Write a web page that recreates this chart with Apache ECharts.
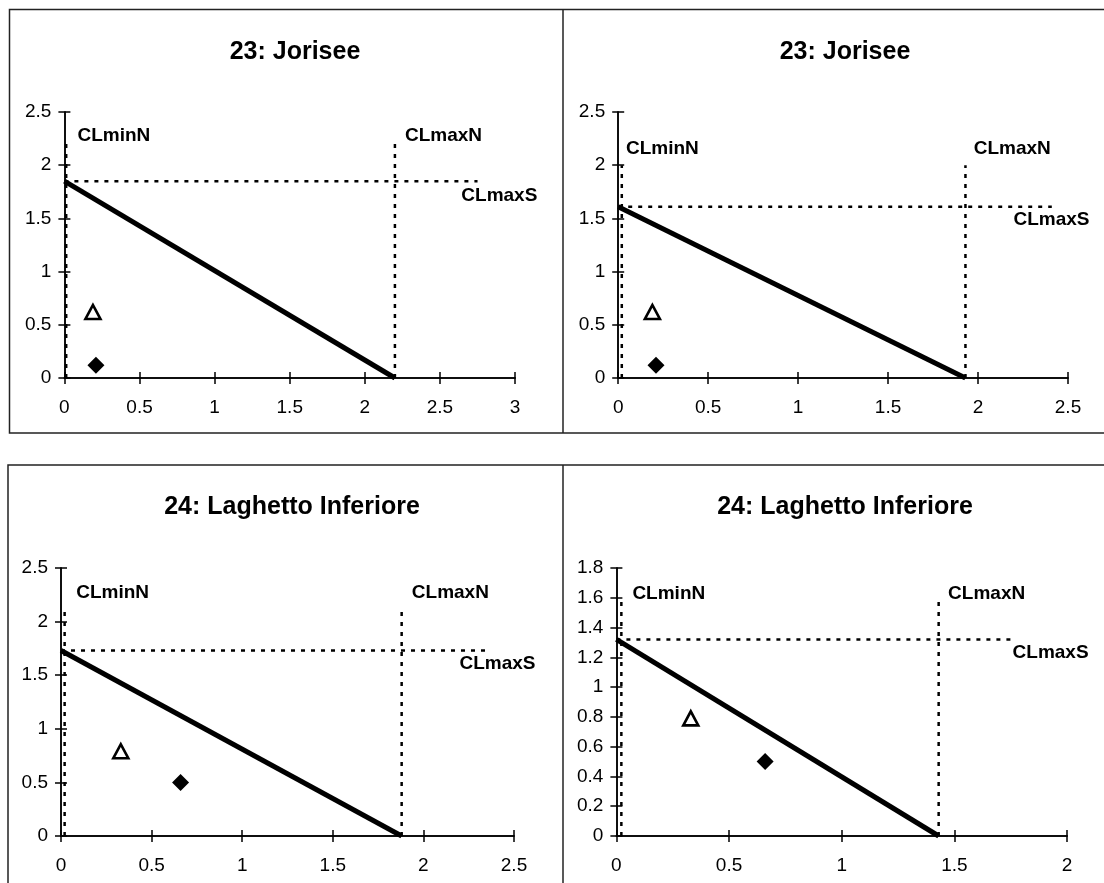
<!DOCTYPE html>
<html>
<head>
<meta charset="utf-8">
<script src="https://cdn.jsdelivr.net/npm/echarts@6/dist/echarts.min.js"></script>
<style>
html,body{margin:0;padding:0;background:#fff;}
#c{width:1104px;height:883px;}
</style>
</head>
<body>
<div id="c"></div>
<script>
// ---- data ----
const panelTitles = ['23: Jorisee', '23: Jorisee', '24: Laghetto Inferiore', '24: Laghetto Inferiore'];
const xMax = [3, 2.5, 2.5, 2];
const xInterval = [0.5, 0.5, 0.5, 0.5];
const yMax = [2.5, 2.5, 2.5, 1.8];
const yInterval = [0.5, 0.5, 0.5, 0.2];
const clMinN = [0.012, 0.02, 0.02, 0.022];
const clMaxN = [2.2, 1.93, 1.88, 1.43];
const clMaxS = [1.85, 1.61, 1.73, 1.32];
const refLineTop = [2.25, 2.0, 2.1, 1.6];
const refLineEnd = [2.75, 2.41, 2.36, 1.76];
const triangleX = [0.19, 0.19, 0.33, 0.33];
const triangleY = [0.62, 0.62, 0.79, 0.79];
const diamondX = [0.21, 0.21, 0.66, 0.66];
const diamondY = [0.12, 0.12, 0.50, 0.50];
const labelNames = ['CLminN', 'CLmaxN', 'CLmaxS'];
const labelMinN = [[0.087, 2.275], [0.043, 2.156], [0.084, 2.265], [0.071, 1.63]];
const labelMaxN = [[2.267, 2.275], [1.976, 2.156], [1.936, 2.265], [1.472, 1.63]];
const labelMaxS = [[2.642, 1.71], [2.197, 1.49], [2.199, 1.603], [1.758, 1.232]];

// ---- layout (pixels) ----
const gridRects = [
  {left: 64.4, top: 112, width: 450.7, height: 266},
  {left: 618.2, top: 112, width: 449.8, height: 266},
  {left: 61, top: 568, width: 453, height: 268},
  {left: 616.4, top: 568, width: 450.7, height: 268}
];
const titlePos = [[290, 35], [840, 35], [287, 490], [840, 490]];

const FONT = 'Liberation Sans, Arial, sans-serif';
const grids = [], xAxes = [], yAxes = [], series = [], titles = [];

for (let i = 0; i < 4; i++) {
  const r = gridRects[i];
  const gMain = grids.length;
  grids.push(Object.assign({containLabel: false}, r));
  grids.push(Object.assign({containLabel: false}, r));
  const common = (isX, inside, show) => ({
    type: 'value', min: 0, max: isX ? xMax[i] : yMax[i],
    interval: isX ? xInterval[i] : yInterval[i],
    splitLine: {show: false},
    axisLine: {show: true, onZero: false, lineStyle: {color: '#000', width: 1.5}},
    axisTick: {show: true, inside: inside, length: 6, lineStyle: {color: '#000', width: 1.5}},
    axisLabel: {show: show, color: '#000', fontFamily: FONT, fontSize: 19, margin: isX ? 20 : 13}
  });
  xAxes.push(Object.assign(common(true, false, true), {gridIndex: gMain}));
  xAxes.push(Object.assign(common(true, true, false), {gridIndex: gMain + 1}));
  yAxes.push(Object.assign(common(false, false, true), {gridIndex: gMain}));
  yAxes.push(Object.assign(common(false, true, false), {gridIndex: gMain + 1}));
  const ax = {xAxisIndex: gMain, yAxisIndex: gMain};
  const dotted = {color: '#000', width: 2.5, type: [4, 6]};
  series.push(Object.assign({type: 'line', data: [[clMinN[i], 0], [clMinN[i], refLineTop[i]]], showSymbol: false, lineStyle: dotted, silent: true, z: 2}, ax));
  series.push(Object.assign({type: 'line', data: [[clMaxN[i], 0], [clMaxN[i], refLineTop[i]]], showSymbol: false, lineStyle: dotted, silent: true, z: 2}, ax));
  series.push(Object.assign({type: 'line', data: [[0, clMaxS[i]], [refLineEnd[i], clMaxS[i]]], showSymbol: false, lineStyle: dotted, silent: true, z: 2}, ax));
  series.push(Object.assign({type: 'line', data: [[0, clMaxS[i]], [clMaxN[i], 0]], showSymbol: false, lineStyle: {color: '#000', width: 5}, silent: true, z: 3}, ax));
  series.push(Object.assign({type: 'scatter', data: [[triangleX[i], triangleY[i]]], symbol: 'triangle', symbolSize: [15, 14],
    itemStyle: {color: '#fff', borderColor: '#000', borderWidth: 2.6, opacity: 1}, z: 4}, ax));
  series.push(Object.assign({type: 'scatter', data: [[diamondX[i], diamondY[i]]], symbol: 'diamond', symbolSize: [17, 17],
    itemStyle: {color: '#000', opacity: 1}, z: 4}, ax));
  const anchors = [labelMinN[i], labelMaxN[i], labelMaxS[i]];
  series.push(Object.assign({type: 'scatter', symbolSize: 0, silent: true, z: 5,
    itemStyle: {opacity: 1},
    data: anchors.map((p, k) => ({name: labelNames[k], value: p})),
    label: {show: true, position: 'right', distance: 0, formatter: '{b}', color: '#000', opacity: 1,
      fontFamily: FONT, fontSize: 19, fontWeight: 'bold'}}, ax));
  titles.push({text: panelTitles[i], left: titlePos[i][0], top: titlePos[i][1], textAlign: 'center',
    textStyle: {fontFamily: FONT, fontSize: 25, fontWeight: 'bold', color: '#000'}});
}

const frameStyle = {stroke: '#222', lineWidth: 1.5};
const graphic = [
  {type: 'polyline', shape: {points: [[1110, 9.5], [9.5, 9.5], [9.5, 433], [1110, 433]]}, style: Object.assign({fill: null}, frameStyle), silent: true},
  {type: 'line', shape: {x1: 563, y1: 9.5, x2: 563, y2: 433}, style: frameStyle, silent: true},
  {type: 'polyline', shape: {points: [[8, 890], [8, 465], [1110, 465]]}, style: Object.assign({fill: null}, frameStyle), silent: true},
  {type: 'line', shape: {x1: 563, y1: 465, x2: 563, y2: 890}, style: frameStyle, silent: true}
];

const chart = echarts.init(document.getElementById('c'), null, {renderer: 'canvas'});
chart.setOption({
  animation: false,
  backgroundColor: '#fff',
  title: titles,
  grid: grids,
  xAxis: xAxes,
  yAxis: yAxes,
  series: series,
  graphic: graphic
});
</script>
</body>
</html>
